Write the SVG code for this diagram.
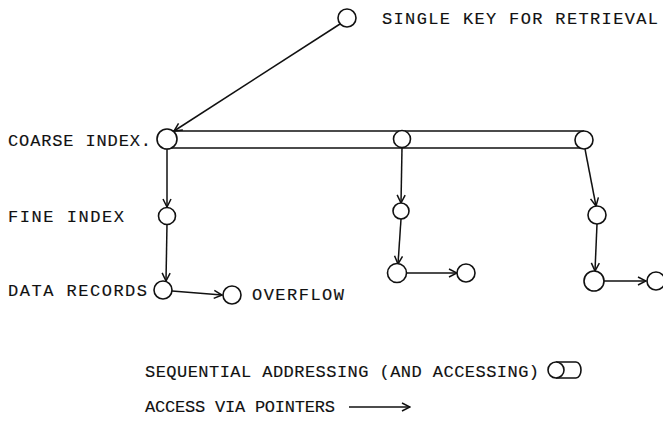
<svg xmlns="http://www.w3.org/2000/svg" width="663" height="423" viewBox="0 0 663 423">
  <style>
    .lbl { font-family: "Liberation Mono", "Courier New", monospace; font-size: 17px; fill: #111; stroke: #111; stroke-width: 0.15; }
    .node { fill: #fff; stroke: #111; stroke-width: 1.6; }
    .edge { fill: none; stroke: #111; stroke-width: 1.5; }
    .bar { fill: none; stroke: #111; stroke-width: 1.6; }
  </style>
  <defs>
    <marker id="arrow" viewBox="0 0 10 10" refX="9" refY="5" markerWidth="10" markerHeight="10" markerUnits="userSpaceOnUse" orient="auto">
      <path d="M1,1 L9,5 L1,9" fill="none" stroke="#111" stroke-width="1.5"/>
    </marker>
  </defs>

  <rect width="663" height="423" fill="#fff"/>

  <!-- sequential index bar joining the coarse index entries -->
  <g id="coarse-bar">
    <path class="bar" d="M167,131 L584,131 M167,148 L584,148"/>
  </g>

  <!-- pointers -->
  <g id="connectors">
    <line class="edge" x1="340" y1="24" x2="174" y2="131" marker-end="url(#arrow)"/>
    <line class="edge" x1="167" y1="149" x2="167" y2="207" marker-end="url(#arrow)"/>
    <line class="edge" x1="167" y1="224" x2="166" y2="281" marker-end="url(#arrow)"/>
    <line class="edge" x1="172" y1="291" x2="222" y2="295" marker-end="url(#arrow)"/>
    <line class="edge" x1="402" y1="148" x2="401" y2="203" marker-end="url(#arrow)"/>
    <line class="edge" x1="401" y1="219" x2="398" y2="264" marker-end="url(#arrow)"/>
    <line class="edge" x1="406" y1="273" x2="457" y2="273" marker-end="url(#arrow)"/>
    <line class="edge" x1="585" y1="149" x2="596" y2="206" marker-end="url(#arrow)"/>
    <line class="edge" x1="597" y1="224" x2="595" y2="271" marker-end="url(#arrow)"/>
    <line class="edge" x1="604" y1="281" x2="646" y2="281" marker-end="url(#arrow)"/>
  </g>

  <g id="key">
    <circle class="node" cx="347" cy="18" r="9"/>
    <text class="lbl" x="382" y="24" textLength="276" lengthAdjust="spacing">SINGLE KEY FOR RETRIEVAL</text>
  </g>

  <g id="coarse-index">
    <text class="lbl" x="8" y="146" textLength="143" lengthAdjust="spacing">COARSE INDEX.</text>
    <circle class="node" cx="167" cy="139" r="10"/>
  </g>
  <g id="coarse-2"><circle class="node" cx="402" cy="139" r="8.5"/></g>
  <g id="coarse-3"><circle class="node" cx="584" cy="140" r="9"/></g>

  <g id="fine-index">
    <text class="lbl" x="8" y="222" textLength="116" lengthAdjust="spacing">FINE INDEX</text>
    <circle class="node" cx="167" cy="216" r="8.5"/>
  </g>
  <g id="fine-2"><circle class="node" cx="401" cy="211" r="8"/></g>
  <g id="fine-3"><circle class="node" cx="597" cy="215" r="9"/></g>

  <g id="data-records">
    <text class="lbl" x="8" y="296" textLength="139" lengthAdjust="spacing">DATA RECORDS</text>
    <circle class="node" cx="163" cy="290" r="9"/>
  </g>
  <g id="data-2"><circle class="node" cx="397" cy="273" r="9.5"/></g>
  <g id="data-3"><circle class="node" cx="594" cy="281" r="10"/></g>

  <g id="overflow">
    <circle class="node" cx="232" cy="295" r="9"/>
    <text class="lbl" x="252" y="300" textLength="92" lengthAdjust="spacing">OVERFLOW</text>
  </g>
  <g id="overflow-2"><circle class="node" cx="466" cy="273" r="9"/></g>
  <g id="overflow-3"><circle class="node" cx="656" cy="281" r="9"/></g>

  <!-- legend -->
  <g id="legend-sequential">
    <text class="lbl" x="145" y="377" textLength="394" lengthAdjust="spacing">SEQUENTIAL ADDRESSING (AND ACCESSING)</text>
    <path class="bar" d="M556,362 L576,362 M556,378 L576,378 M576,362 A5,8 0 0 1 576,378"/>
    <circle class="node" cx="556" cy="370" r="8"/>
  </g>
  <g id="legend-pointer">
    <text class="lbl" x="145" y="412" textLength="190" lengthAdjust="spacing">ACCESS VIA POINTERS</text>
    <line class="edge" x1="349" y1="407" x2="410" y2="407" marker-end="url(#arrow)"/>
  </g>
</svg>
